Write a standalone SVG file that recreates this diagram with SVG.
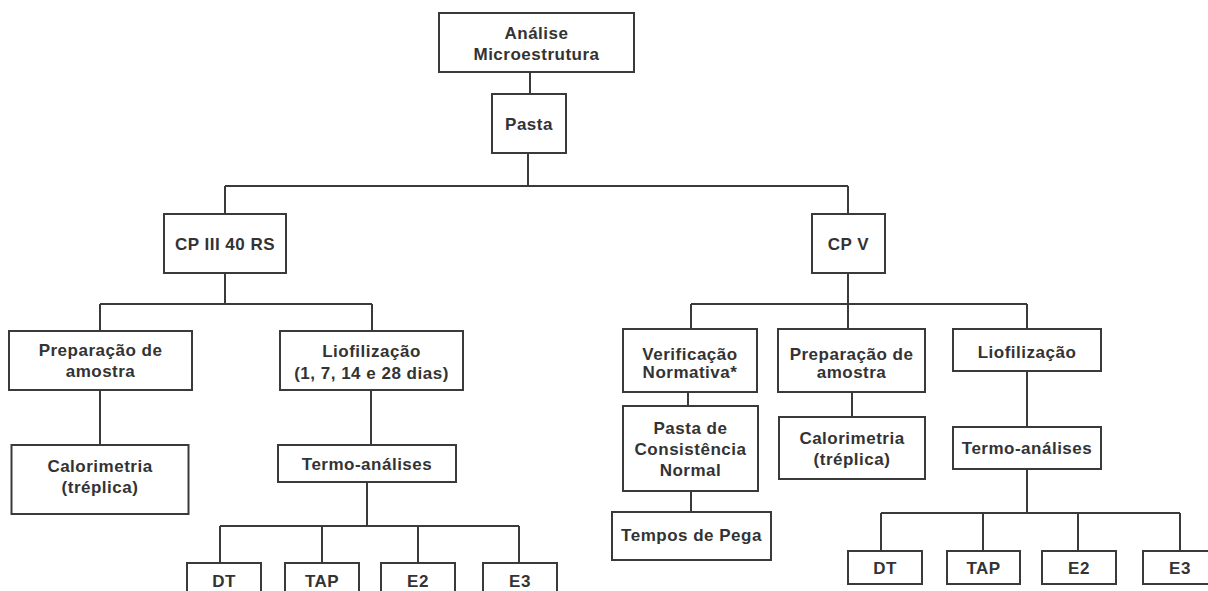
<svg xmlns="http://www.w3.org/2000/svg" width="1208" height="591" viewBox="0 0 1208 591">
<style>
.box{fill:#fff;stroke:#3a3a3a;stroke-width:2}
.ln{fill:none;stroke:#3a3a3a;stroke-width:2}
text{font-family:"Liberation Sans",Arial,sans-serif;font-weight:bold;font-size:17px;fill:#333;text-anchor:middle;letter-spacing:0.5px}
</style>
<rect width="1208" height="591" fill="#fff"/>
<g id="connectors" class="ln">
<path d="M530 72V94"/>
<path d="M528 153V186M225 186H848M225 186V214M848 186V214"/>
<path d="M225 273V304M100 304H372M100 304V331M372 304V331"/>
<path d="M100 390V445"/>
<path d="M371 390V445"/>
<path d="M367 482V526M220 526H519M220 526V563M322 526V563M418 526V563M519 526V563"/>
<path d="M848 273V304M691 304H1027M691 304V329M848 304V329M1027 304V329"/>
<path d="M688 392V406"/>
<path d="M691 491V512"/>
<path d="M852 392V417"/>
<path d="M1027 371V427"/>
<path d="M1027 469V513M881 513H1180M881 513V551M983 513V551M1078 513V551M1180 513V551"/>
</g>
<g id="analise"><rect class="box" x="439" y="13" width="195" height="59"/><text x="536.5" y="39">Análise</text><text x="536.5" y="60">Microestrutura</text></g>
<g id="pasta"><rect class="box" x="492" y="94" width="74" height="59"/><text x="529" y="130">Pasta</text></g>
<g id="cp3"><rect class="box" x="164" y="214" width="122" height="59"/><text x="225" y="250">CP III 40 RS</text></g>
<g id="cp5"><rect class="box" x="812" y="214" width="73" height="59"/><text x="848.5" y="250">CP V</text></g>
<g id="prepL"><rect class="box" x="9" y="331" width="183" height="59"/><text x="100.5" y="356">Preparação de</text><text x="100.5" y="377">amostra</text></g>
<g id="lioL"><rect class="box" x="280" y="331" width="183" height="59"/><text x="371.5" y="357">Liofilização</text><text x="371.5" y="379">(1, 7, 14 e 28 dias)</text></g>
<g id="calL"><rect class="box" x="11.5" y="445" width="177" height="69"/><text x="100" y="472">Calorimetria</text><text x="100" y="493">(tréplica)</text></g>
<g id="termoL"><rect class="box" x="278" y="445" width="178" height="37"/><text x="367" y="470">Termo-análises</text></g>
<g id="dtL"><rect class="box" x="187" y="563" width="74" height="36"/><text x="224" y="587">DT</text></g>
<g id="tapL"><rect class="box" x="285" y="563" width="74" height="36"/><text x="322" y="587">TAP</text></g>
<g id="e2L"><rect class="box" x="381" y="563" width="74" height="36"/><text x="418" y="587">E2</text></g>
<g id="e3L"><rect class="box" x="483" y="563" width="74" height="36"/><text x="520" y="587">E3</text></g>
<g id="verif"><rect class="box" x="623" y="329" width="134" height="63"/><text x="690" y="360">Verificação</text><text x="690" y="378">Normativa*</text></g>
<g id="prepR"><rect class="box" x="778" y="329" width="147" height="63"/><text x="851.5" y="360">Preparação de</text><text x="851.5" y="378">amostra</text></g>
<g id="lioR"><rect class="box" x="953" y="329" width="148" height="42"/><text x="1027" y="358">Liofilização</text></g>
<g id="pcn"><rect class="box" x="623" y="406" width="135" height="85"/><text x="690.5" y="434">Pasta de</text><text x="690.5" y="455">Consistência</text><text x="690.5" y="476">Normal</text></g>
<g id="tempos"><rect class="box" x="612" y="512" width="159" height="48"/><text x="691.5" y="541">Tempos de Pega</text></g>
<g id="calR"><rect class="box" x="779" y="417" width="146" height="62"/><text x="852" y="444">Calorimetria</text><text x="852" y="465">(tréplica)</text></g>
<g id="termoR"><rect class="box" x="953" y="427" width="148" height="42"/><text x="1027" y="454">Termo-análises</text></g>
<g id="dtR"><rect class="box" x="848" y="551" width="74" height="33"/><text x="885" y="574">DT</text></g>
<g id="tapR"><rect class="box" x="947" y="551" width="73" height="33"/><text x="983.5" y="574">TAP</text></g>
<g id="e2R"><rect class="box" x="1042" y="551" width="74" height="33"/><text x="1079" y="574">E2</text></g>
<g id="e3R"><rect class="box" x="1143" y="551" width="74" height="33"/><text x="1180" y="574">E3</text></g>
</svg>
